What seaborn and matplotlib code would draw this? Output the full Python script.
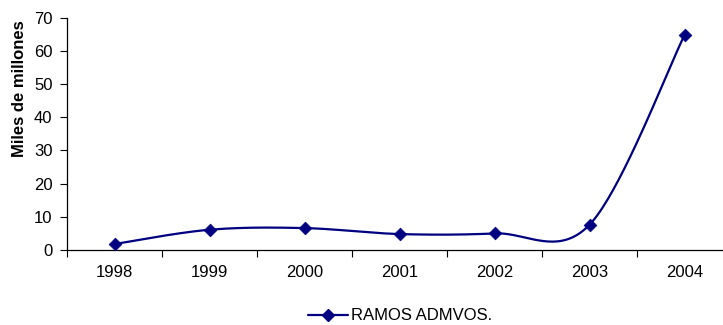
import numpy as np
import pandas as pd
import matplotlib
matplotlib.use("Agg")
import matplotlib.pyplot as plt
import seaborn as sns
from matplotlib.lines import Line2D

years = ["1998", "1999", "2000", "2001", "2002", "2003", "2004"]
values = [1.8, 6.1, 6.6, 4.8, 5.0, 7.6, 64.7]
series_name = "RAMOS ADMVOS."

sns.set_style("ticks")
plt.rcParams["font.family"] = ["Liberation Sans", "DejaVu Sans"]
plt.rcParams["text.color"] = "black"
plt.rcParams["axes.labelcolor"] = "black"
plt.rcParams["xtick.color"] = "black"
plt.rcParams["ytick.color"] = "black"

NAVY = "#000080"

fig = plt.figure(figsize=(7.23, 3.25), dpi=100)
ax = fig.add_axes([67 / 723, 75 / 325, 665 / 723, 232.5 / 325])

df = pd.DataFrame({"pos": np.arange(len(years)), "value": values})


def smooth_curve(x, y, steps=40):
    # Catmull-Rom style Bezier through the points (endpoints repeated)
    x = np.asarray(x, float)
    y = np.asarray(y, float)
    px = np.concatenate([[x[0]], x, [x[-1]]])
    py = np.concatenate([[y[0]], y, [y[-1]]])
    t = np.linspace(0, 1, steps)
    xs, ys = [], []
    for i in range(1, len(px) - 2):
        p0 = np.array([px[i], py[i]])
        p3 = np.array([px[i + 1], py[i + 1]])
        c1 = p0 + (np.array([px[i + 1], py[i + 1]]) - np.array([px[i - 1], py[i - 1]])) / 6
        c2 = p3 - (np.array([px[i + 2], py[i + 2]]) - np.array([px[i], py[i]])) / 6
        b = ((1 - t) ** 3)[:, None] * p0 + (3 * (1 - t) ** 2 * t)[:, None] * c1 \
            + (3 * (1 - t) * t ** 2)[:, None] * c2 + (t ** 3)[:, None] * p3
        xs.append(b[:, 0])
        ys.append(b[:, 1])
    return np.concatenate(xs), np.concatenate(ys)


sx, sy = smooth_curve(df["pos"], df["value"])
sns.lineplot(x=sx, y=sy, ax=ax, color=NAVY, linewidth=1.6, sort=False,
             estimator=None, legend=False)
sns.scatterplot(data=df, x="pos", y="value", ax=ax, marker="D", s=42,
                color=NAVY, edgecolor=NAVY, linewidth=0.5, legend=False,
                zorder=3)

ax.set_xlim(-0.5, len(years) - 0.5)
ax.set_ylim(0, 70)
ax.set_yticks(range(0, 71, 10))
ax.set_xticks(np.arange(-0.5, len(years), 1.0))
ax.set_xticklabels([])
ax.set_xticks(np.arange(len(years)), minor=True)
ax.set_xticklabels(years, minor=True)
ax.tick_params(axis="x", which="major", length=5, width=0.8, color="black",
               direction="out")
ax.tick_params(axis="x", which="minor", length=0, pad=10.5, labelsize=12)
ax.tick_params(axis="y", length=5, width=0.8, color="black", labelsize=12,
               pad=5.5)
ax.set_xlabel("")
ax.set_ylabel("Miles de millones", fontsize=12, fontweight="bold")
ax.yaxis.set_label_coords((27.5 - 67) / 665, (250 - 88.7) / 232.5,
                          transform=ax.transAxes)

sns.despine(ax=ax)
for sp in ("left", "bottom"):
    ax.spines[sp].set_color("black")
    ax.spines[sp].set_linewidth(0.9)

handle = Line2D([], [], color=NAVY, linewidth=1.6, marker="D", markersize=6)
fig.legend([handle], [series_name], loc="center left",
           bbox_to_anchor=(293 / 723, 1 - 316 / 325),
           frameon=False, fontsize=12, handlelength=2.4, handletextpad=0.2)

fig.savefig("out.png", dpi=100)
